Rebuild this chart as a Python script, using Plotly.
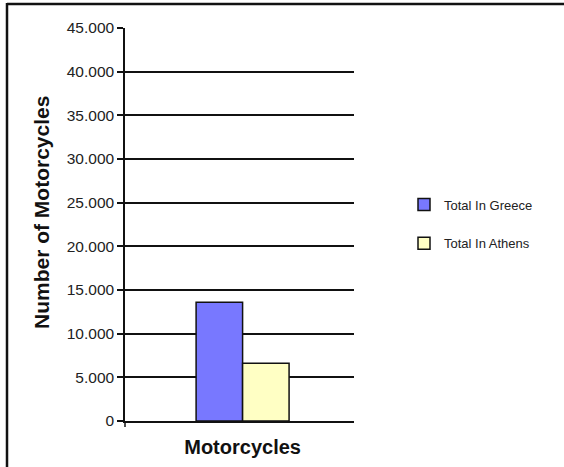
import plotly.graph_objects as go

# Registered motorcycles
categories = ["Motorcycles"]
series_names = ["Total In Greece", "Total In Athens"]
greece_values = [13600]
athens_values = [6600]
y_ticks = [0, 5000, 10000, 15000, 20000, 25000, 30000, 35000, 40000, 45000]

colors = ["#7878FF", "#FFFFC4"]

W, H = 564, 467
L, R, T, B = 125, 210, 28, 46
plot_w = W - L - R
plot_h = H - T - B


def px_x(px):
    return (px - L) / plot_w


def px_y(py):
    return (H - B - py) / plot_h


fig = go.Figure()
for name, vals, col in zip(series_names, [greece_values, athens_values], colors):
    fig.add_trace(go.Bar(
        x=categories, y=vals, name=name, legendgroup=name,
        marker=dict(color=col, line=dict(color="#111111", width=1.5)),
    ))

font_main = "Liberation Sans, Arial, sans-serif"

fig.update_layout(
    width=W, height=H,
    margin=dict(l=L, r=R, t=T, b=B, autoexpand=False),
    paper_bgcolor="white", plot_bgcolor="white",
    separators=",.",
    barmode="group", bargap=0.594, bargroupgap=0,
    font=dict(family=font_main, color="#222222"),
    showlegend=True,
    legend=dict(
        x=px_x(404), xanchor="left",
        y=px_y(224), yanchor="middle",
        traceorder="grouped", tracegroupgap=19,
        font=dict(size=13, color="#222222", family=font_main),
        bgcolor="rgba(0,0,0,0)",
    ),
    xaxis=dict(
        range=[-0.5135, 0.4865],
        showline=True, linecolor="#111111", linewidth=1.5,
        ticks="", showgrid=False,
        tickfont=dict(size=20, weight="bold", color="#111111"),
        ticklabelstandoff=7,
    ),
    yaxis=dict(
        range=[0, 45000], tickvals=y_ticks, tickformat=",d",
        showline=True, linecolor="#111111", linewidth=1.5,
        ticks="outside", ticklen=6, tickcolor="#111111", tickwidth=1.5,
        showgrid=True, gridcolor="#111111", gridwidth=1.5,
        zeroline=False,
        tickfont=dict(size=15.5, color="#222222"),
    ),
    annotations=[
        dict(text="<b>Number of Motorcycles</b>", textangle=-90,
             xref="paper", yref="paper", x=px_x(41), y=px_y(213),
             xanchor="center", yanchor="middle", showarrow=False,
             font=dict(size=21, color="#111111", family=font_main)),
    ],
    shapes=[
        # outer chart frame (top and left edges)
        dict(type="line", xref="paper", yref="paper",
             x0=px_x(7), x1=px_x(W + 10), y0=px_y(4), y1=px_y(4),
             line=dict(color="#111111", width=2.5)),
        dict(type="line", xref="paper", yref="paper",
             x0=px_x(7), x1=px_x(7), y0=px_y(3), y1=px_y(H + 10),
             line=dict(color="#111111", width=2.5)),
        # category boundary tick at the left end of the x axis
        dict(type="line", xref="paper", yref="paper",
             x0=0, x1=0, y0=0, y1=-6 / plot_h,
             line=dict(color="#111111", width=1.5)),
    ],
)

fig.write_html("out.html")
